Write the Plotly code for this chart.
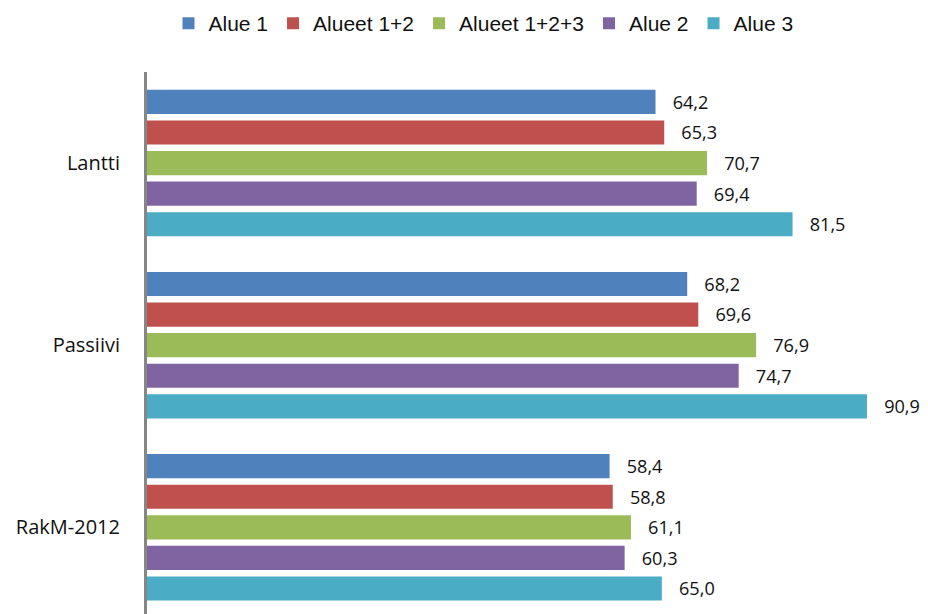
import plotly.graph_objects as go

categories = ["Lantti", "Passiivi", "RakM-2012"]
series_names = ["Alue 1", "Alueet 1+2", "Alueet 1+2+3", "Alue 2", "Alue 3"]
alue1 = [64.2, 68.2, 58.4]
alueet12 = [65.3, 69.6, 58.8]
alueet123 = [70.7, 76.9, 61.1]
alue2 = [69.4, 74.7, 60.3]
alue3 = [81.5, 90.9, 65.0]
colors = ["#4F81BD", "#C0504D", "#9BBB59", "#8064A2", "#4BACC6"]

series_values = [alue1, alueet12, alueet123, alue2, alue3]

fig = go.Figure()
for name, vals, col in zip(series_names, series_values, colors):
    fig.add_trace(go.Bar(
        name=name,
        y=categories,
        x=vals,
        orientation="h",
        marker=dict(color=col, line=dict(width=0)),
        text=["\u00a0\u00a0\u00a0" + f"{v:.1f}".replace(".", ",") for v in vals],
        textposition="outside",
        textfont=dict(family="Open Sans, Liberation Sans, sans-serif", size=21, color="#111111"),
        cliponaxis=False,
        hoverinfo="skip",
    ))

fig.update_layout(
    width=928,
    height=614,
    barmode="group",
    bargap=0.16,
    bargroupgap=0.21,
    plot_bgcolor="white",
    paper_bgcolor="white",
    margin=dict(l=147, r=0, t=72, b=0),
    showlegend=True,
    legend=dict(
        orientation="h",
        xref="container", yref="container",
        x=0.521, xanchor="center",
        y=0.995, yanchor="top",
        font=dict(family="Liberation Sans, Arial, sans-serif", size=21, color="#111111"),
        traceorder="normal",
    ),
    xaxis=dict(
        range=[0, 98.6],
        showgrid=False,
        zeroline=False,
        showline=False,
        showticklabels=False,
        ticks="",
    ),
    yaxis=dict(
        range=[2.476, -0.5],
        showgrid=False,
        zeroline=False,
        showline=True,
        linecolor="#868686",
        linewidth=3,
        ticks="",
        ticklabelstandoff=20,
        tickfont=dict(family="Open Sans, Liberation Sans, sans-serif", size=20, color="#111111"),
    ),
)

fig.write_html("out.html")
